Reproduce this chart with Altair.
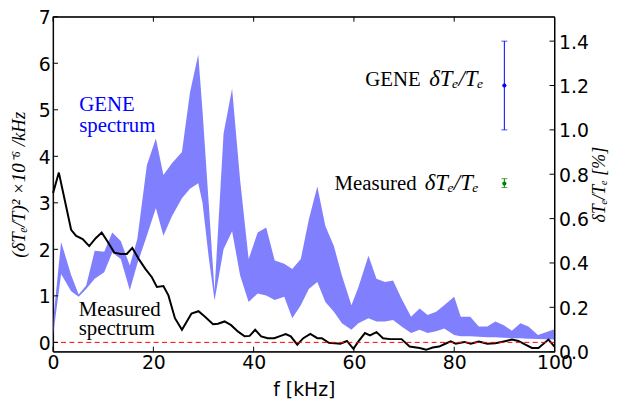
import altair as alt
import pandas as pd

# ---------------- data ----------------
band_freq = [0.0, 1.6, 3.6, 5.1, 6.6, 8.3, 10.2, 11.8, 13.5, 15.3, 16.8, 18.7, 20.5, 22.0,
             23.7, 25.7, 27.3, 28.95, 29.8, 31.0, 32.2, 34.0, 35.7, 37.3, 39.0, 40.8, 42.5,
             44.2, 46.1, 47.7, 49.4, 51.0, 52.7, 54.3, 56.0, 57.6, 59.5, 60.9, 62.9, 64.5,
             66.2, 67.8, 69.5, 71.4, 73.1, 74.7, 76.4, 78.0, 80.0, 81.3, 83.2, 84.9, 86.6,
             88.2, 89.9, 91.5, 93.2, 94.8, 96.7, 100.0]
band_lower = [0.15, 1.47, 1.10, 0.98, 1.15, 1.37, 1.51, 1.93, 1.79, 1.12, 1.69, 2.29, 2.89, 2.29,
              2.71, 3.10, 3.30, 3.42, 3.00, 1.86, 0.90, 2.00, 2.39, 1.44, 0.87, 1.05, 1.01,
              0.91, 0.98, 0.52, 0.80, 1.15, 1.30, 0.87, 0.66, 0.41, 0.27, 0.41, 0.52, 0.45,
              0.45, 0.48, 0.34, 0.20, 0.27, 0.20, 0.24, 0.30, 0.16, 0.13, 0.13, 0.12, 0.11,
              0.11, 0.10, 0.09, 0.09, 0.08, 0.07, 0.06]
band_upper = [0.45, 2.16, 1.45, 1.03, 1.22, 1.97, 1.95, 2.36, 2.18, 1.65, 2.22, 3.81, 4.38, 3.60,
              3.85, 4.09, 5.37, 6.19, 4.98, 3.05, 1.10, 4.49, 5.46, 3.49, 1.79, 2.36, 2.47,
              1.76, 1.69, 1.58, 1.79, 2.64, 3.35, 2.50, 2.07, 1.44, 0.80, 1.19, 1.86, 1.37,
              1.30, 1.33, 0.94, 0.55, 0.73, 0.59, 0.66, 0.80, 0.98, 0.55, 0.55, 0.34, 0.34,
              0.45, 0.37, 0.25, 0.41, 0.34, 0.16, 0.28]

meas_freq = [0.0, 1.15, 2.3, 3.6, 4.6, 5.9, 7.2, 8.5, 9.7, 10.8, 12.2, 13.5, 14.7, 15.8, 17.1,
             18.4, 19.7, 20.7, 22.0, 23.0, 24.3, 25.7, 27.6, 29.0, 30.3, 31.9, 32.9, 34.2,
             35.5, 36.9, 38.2, 39.2, 40.3, 41.5, 42.8, 44.1, 45.4, 46.4, 47.4, 48.7, 49.9,
             51.3, 52.7, 53.6, 55.0, 57.3, 58.6, 59.9, 60.9, 62.2, 63.2, 64.5, 65.8, 67.2,
             69.5, 71.1, 73.1, 74.4, 75.7, 77.0, 78.0, 79.3, 80.3, 82.0, 83.3, 84.9, 86.6,
             88.2, 89.9, 91.5, 92.8, 94.2, 95.5, 96.8, 98.8, 100.0]
meas_power = [3.21, 3.65, 3.07, 2.42, 2.29, 2.22, 2.07, 2.24, 2.36, 2.18, 1.93, 1.90, 1.90, 2.03,
              1.79, 1.58, 1.40, 1.19, 1.21, 1.01, 0.52, 0.27, 0.62, 0.67, 0.55, 0.39, 0.40,
              0.45, 0.37, 0.23, 0.13, 0.14, 0.27, 0.13, 0.09, 0.09, 0.14, 0.18, 0.13, -0.05,
              0.09, 0.18, 0.09, 0.09, -0.01, -0.03, 0.03, -0.14, 0.02, 0.20, 0.15, 0.22, 0.09,
              0.07, 0.07, -0.09, -0.12, -0.16, -0.11, -0.09, -0.04, 0.02, -0.03, 0.01, -0.03,
              0.02, -0.03, -0.02, 0.02, 0.06, 0.03, -0.05, -0.12, -0.12, 0.06, -0.09]

zero_level = [0.0]

err_names = ["GENE", "Measured"]
err_freq = [90.0, 90.0]
err_center = [1.2, 0.758]
err_low = [1.0, 0.74]
err_high = [1.4, 0.78]
err_colors = ["#0000ff", "#008000"]

ann_word = ["GENE", "Measured"]
ann_math = ["δTₑ/Tₑ", "δTₑ/Tₑ"]
ann_y = [1.197, 0.728]
ann_word_x = [73.3, 72.5]
ann_math_x = [75.0, 74.1]

label_text = ["GENE", "spectrum", "Measured", "spectrum"]
label_x = [5.2, 5.2, 5.1, 5.1]
label_y = [4.98, 4.52, 0.56, 0.15]
label_color = ["#0000ff", "#0000ff", "#000000", "#000000"]

x_ticks = [0, 20, 40, 60, 80, 100]
left_ticks = [0, 1, 2, 3, 4, 5, 6, 7]
right_ticks = [0.0, 0.2, 0.4, 0.6, 0.8, 1.0, 1.2, 1.4]

W, H = 506, 338
TICK = 5

# ---------------- scales & axes ----------------
XS = alt.Scale(domain=[0, 100], nice=False, zero=False)
YL = alt.Scale(domain=[-0.2, 7], nice=False, zero=False)
YR = alt.Scale(domain=[0, 1.51], nice=False, zero=False)

x_axis = alt.Axis(values=x_ticks, title="f [kHz]", labelFont="DejaVu Sans", labelFontSize=19,
                  titleFont="DejaVu Sans", titleFontSize=19, titleFontWeight="normal",
                  labelColor="black", titleColor="black", ticks=False, domain=False, grid=False,
                  labelPadding=2, titlePadding=8, labelFlush=False, labelOverlap=False)
left_axis = alt.Axis(values=left_ticks, title="(δTₑ/T)² ×10⁻⁶ /kHz", orient="left",
                     labelFont="DejaVu Sans", labelFontSize=19, labelColor="black",
                     labelBaseline="alphabetic", labelOffset=7,
                     titleFont="Liberation Serif", titleFontStyle="italic", titleFontSize=19,
                     titleFontWeight="normal", titleColor="black", ticks=False, domain=False,
                     grid=False, labelPadding=3, titlePadding=10, labelOverlap=False,
                     labelFlush=False)
right_axis = alt.Axis(values=right_ticks, format=".1f", title="δTₑ/Tₑ [%]", orient="right",
                      labelFont="DejaVu Sans", labelFontSize=19, labelColor="black",
                      labelBaseline="alphabetic", labelOffset=7,
                      titleFont="Liberation Serif", titleFontStyle="italic", titleFontSize=18,
                      titleFontWeight="normal", titleColor="black", titleAngle=270,
                      titleBaseline="top",
                      ticks=False, domain=False, grid=False, labelPadding=4, titlePadding=2,
                      labelOverlap=False, labelFlush=False)

# ---------------- data frames ----------------
band_df = pd.DataFrame({"f": band_freq, "lo": band_lower, "hi": band_upper})
meas_df = pd.DataFrame({"f": meas_freq, "p": meas_power})
zero_df = pd.DataFrame({"z": zero_level})
err_df = pd.DataFrame({"name": err_names, "f": err_freq, "c": err_center,
                       "lo": err_low, "hi": err_high, "col": err_colors})
cap_df = pd.DataFrame({"f": err_freq + err_freq, "v": err_low + err_high,
                       "col": err_colors + err_colors})
ann_df = pd.DataFrame({"w": ann_word, "m": ann_math, "y": ann_y,
                       "wx": ann_word_x, "mx": ann_math_x})
lab_df = pd.DataFrame({"t": label_text, "x": label_x, "y": label_y, "col": label_color})
xt_df = pd.DataFrame({"v": x_ticks})
lt_df = pd.DataFrame({"v": left_ticks})
rt_df = pd.DataFrame({"v": right_ticks})
frame_df = pd.DataFrame({"k": [0]})


def X(field):
    return alt.X(field, scale=XS, axis=x_axis)


def YLf(field):
    return alt.Y(field, scale=YL, axis=left_axis)


def YRf(field):
    return alt.Y(field, scale=YR, axis=right_axis)


# ---------------- left-scale layers ----------------
band = alt.Chart(band_df).mark_area(color="#8080ff", opacity=1).encode(
    x=X("f:Q"), y=YLf("hi:Q"), y2="lo:Q")
line = alt.Chart(meas_df).mark_line(color="black", strokeWidth=2).encode(
    x=X("f:Q"), y=YLf("p:Q"))
zero = alt.Chart(zero_df).mark_rule(color="red", strokeDash=[5, 3.5], strokeWidth=1).encode(
    y=YLf("z:Q"))
labels = alt.Chart(lab_df).mark_text(align="left", baseline="alphabetic",
                                     font="Liberation Serif", fontSize=21).encode(
    x=X("x:Q"), y=YLf("y:Q"), text="t:N", color=alt.Color("col:N", scale=None))
left_ticks_l = alt.Chart(lt_df).mark_rule(color="black", strokeWidth=1).encode(
    y=YLf("v:Q"), x=alt.value(0), x2=alt.value(TICK))
bottom_ticks_l = alt.Chart(xt_df).mark_rule(color="black", strokeWidth=1).encode(
    x=X("v:Q"), y=alt.value(H), y2=alt.value(H - TICK))
top_ticks_l = alt.Chart(xt_df).mark_rule(color="black", strokeWidth=1).encode(
    x=X("v:Q"), y=alt.value(0), y2=alt.value(TICK))
frame = alt.Chart(frame_df).mark_rect(filled=False, stroke="black", strokeWidth=1).encode(
    x=alt.value(0), x2=alt.value(W), y=alt.value(0), y2=alt.value(H))

left_group = alt.layer(band, line, zero, labels, left_ticks_l, bottom_ticks_l, top_ticks_l,
                       frame)

# ---------------- right-scale layers ----------------
err = alt.Chart(err_df).mark_rule(strokeWidth=1).encode(
    x=X("f:Q"), y=YRf("lo:Q"), y2="hi:Q", color=alt.Color("col:N", scale=None))
caps = alt.Chart(cap_df).mark_tick(orient="horizontal", size=6, thickness=1).encode(
    x=X("f:Q"), y=YRf("v:Q"), color=alt.Color("col:N", scale=None))
pts = alt.Chart(err_df).mark_circle(size=18, opacity=1).encode(
    x=X("f:Q"), y=YRf("c:Q"), color=alt.Color("col:N", scale=None))
ann_w = alt.Chart(ann_df).mark_text(align="right", baseline="alphabetic", color="black",
                                    font="Liberation Serif", fontSize=21).encode(
    x=X("wx:Q"), y=YRf("y:Q"), text="w:N")
ann_m = alt.Chart(ann_df).mark_text(align="left", baseline="alphabetic", color="black",
                                    font="Liberation Serif", fontStyle="italic",
                                    fontSize=23).encode(
    x=X("mx:Q"), y=YRf("y:Q"), text="m:N")
right_ticks_l = alt.Chart(rt_df).mark_rule(color="black", strokeWidth=1).encode(
    y=YRf("v:Q"), x=alt.value(W), x2=alt.value(W - TICK))

right_group = alt.layer(err, caps, pts, ann_w, ann_m, right_ticks_l)

chart = alt.layer(left_group, right_group).resolve_scale(y="independent").properties(
    width=W, height=H,
    autosize=alt.AutoSizeParams(type="none"),
    padding={"left": 45.5, "top": 7, "right": 55, "bottom": 54},
    background="white",
).configure_view(stroke="black", strokeWidth=1)

chart.save("out.html", embed_options={"renderer": "svg", "actions": False})
